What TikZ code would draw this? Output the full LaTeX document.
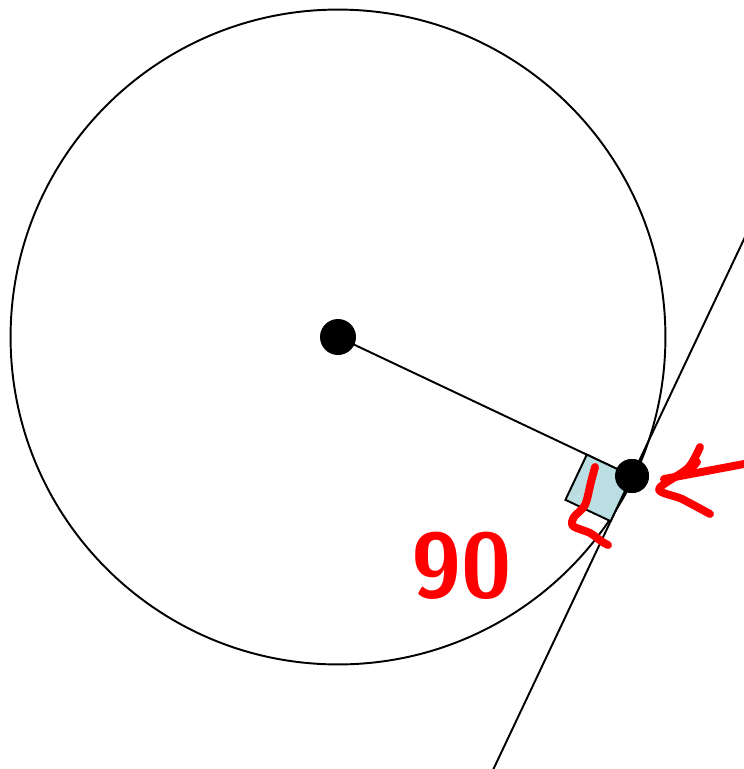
\documentclass[tikz,border=0pt]{standalone}
\usepackage{xcolor}
\usetikzlibrary{calc, positioning}
\definecolor{squareblue}{RGB}{186,222,226}
\tikzset{
    dot/.style={circle, fill=black, inner sep=0pt},
    handink/.style={red, line width=4.5pt, line cap=round, line join=round}
}

\begin{document}
\begin{tikzpicture}[x=0.02cm, y=-0.02cm, line width=1.1pt]
    % Khung hình
    \useasboundingbox (0,0) rectangle (744,769);
    \clip (0,0) rectangle (744,769);

    % Đường tròn và bán kính
    \coordinate (C) at (338,337);
    \draw (C) circle (6.55cm);
    \node[dot, minimum size=0.72cm] (O) at (C) {};
    \node[dot, minimum size=0.68cm] (T) at (632,476) {};
    \draw (O.center) -- (T.center);

    % Tiếp tuyến
    \draw ($(T.center)!-5.6cm!90:(O.center)$) -- ($(T.center)!6.9cm!90:(O.center)$);

    % Góc vuông
    \draw[fill=squareblue] (T.center) -- ($(T.center)!1cm!(O.center)$)
        -- ($($(T.center)!1cm!(O.center)$)!1cm!-90:(T.center)$)
        -- ($(T.center)!1cm!90:(O.center)$) -- cycle;
    \node[dot, minimum size=0.68cm] at (T) {};

    % Ghi chú tay
    \draw[handink] plot[smooth] coordinates {(595,467) (591,482) (585,505) (574,517) (573,526) (590,533) (601,541) (608,545)};
    \draw[handink] (744,464) -- (664,479);
    \draw[handink] plot[smooth] coordinates {(700,447) (688,468) (659,489) (682,499) (710,514)};
    \draw[handink] (697,462) -- (690,470);
    \node[red, font=\fontsize{52}{52}\selectfont\sffamily\bfseries] (ninety) at (462,566) {90};
\end{tikzpicture}
\end{document}
